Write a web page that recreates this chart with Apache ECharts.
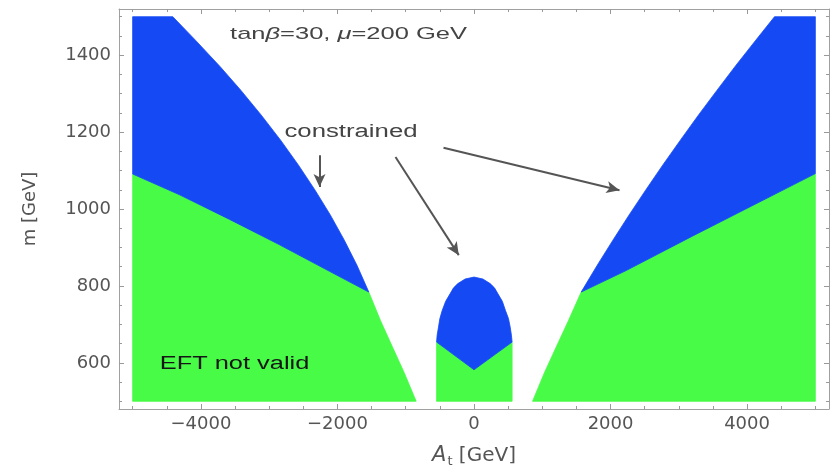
<!DOCTYPE html>
<html><head><meta charset="utf-8">
<script src="https://cdn.jsdelivr.net/npm/echarts@6/dist/echarts.min.js"></script>
<style>html,body{margin:0;padding:0;background:#fff}#c{width:837px;height:469px}</style>
</head><body><div id="c"></div><script>
// ---- axes ----
const xRange = [-5200, 5200];
const yRange = [480, 1520];
const xMajorTicks = [-4000, -2000, 0, 2000, 4000];
const xMinorTicks = [-5000, -4500, -3500, -3000, -2500, -1500, -1000, -500, 500, 1000, 1500, 2500, 3000, 3500, 4500, 5000];
const yMajorTicks = [600, 800, 1000, 1200, 1400];
const yMinorTicks = [500, 550, 650, 700, 750, 850, 900, 950, 1050, 1100, 1150, 1250, 1300, 1350, 1450, 1500];

// ---- region boundaries [A_t, m] ----
const scanA = [-5000, 5000];
const scanM = [500, 1500];
const leftOuterUpper = [[-4412, 1500], [-4081, 1439], [-3718, 1370], [-3417, 1309], [-3116, 1244], [-2833, 1179], [-2571, 1114], [-2328, 1049], [-2103, 984], [-1900, 919], [-1715, 854], [-1541, 784]];
const leftOuterLower = [[-1541, 784], [-1370, 710], [-1194, 641], [-1024, 575], [-847, 500]];
const leftSplit = [[-5000, 1091], [-4314, 1037], [-3581, 973], [-2849, 907], [-2117, 838], [-1541, 784]];
const rightOuterUpper = [[4402, 1500], [4128, 1439], [3839, 1374], [3561, 1309], [3287, 1244], [3023, 1179], [2764, 1114], [2514, 1049], [2270, 984], [2035, 919], [1806, 854], [1570, 784]];
const rightOuterLower = [[1570, 784], [1384, 710], [1204, 641], [1033, 575], [858, 500]];
const rightSplit = [[5000, 1092], [3205, 930], [2229, 840], [1570, 784]];
const centerDome = [[-548, 654], [-540, 672], [-520, 693], [-500, 715], [-466, 736], [-415, 760], [-349, 780], [-300, 795], [-237, 806], [-130, 818], [0, 823], [130, 818], [237, 806], [300, 795], [349, 780], [415, 760], [461, 736], [505, 715], [530, 693], [548, 672], [558, 654]];
const centerSplit = [[-548, 654], [0, 582], [558, 654]];

// ---- annotations ----
const arrows = [
  [[-2263, 1140], [-2263, 1057]],
  [[-1150, 1135], [-223, 880]],
  [[-447, 1159], [2131, 1049]]
];
const notes = [
  { text: '{n|tan}{i|β}{n|=30, }{i|μ}{n|=200 GeV}', at: [-1838, 1455], size: 17, sx: 1.5, color: '#444' },
  { text: '{n|constrained}', at: [-1802, 1200], size: 18, sx: 1.43, color: '#444' },
  { text: '{n|EFT not valid}', at: [-3508, 598], size: 18, sx: 1.41, color: '#151515' }
];

const BLUE = '#1449f4', GREEN = '#47fb47';

// polygons built from the boundaries
const leftGreen = [[scanA[0], scanM[0]]].concat(leftSplit, leftOuterLower.slice(1));
const leftBlue = [[scanA[0], scanM[1]]].concat(leftOuterUpper, leftSplit.slice(0, -1).reverse());
const rightGreen = [[scanA[1], scanM[0]]].concat(rightSplit, rightOuterLower.slice(1));
const rightBlue = [[scanA[1], scanM[1]]].concat(rightOuterUpper, rightSplit.slice(0, -1).reverse());
const centerGreen = [[centerSplit[0][0], scanM[0]]].concat(centerSplit, [[centerSplit[2][0], scanM[0]]]);
const centerBlue = centerDome.concat([centerSplit[1]]);

function poly(name, pts, color) {
  return {
    type: 'custom', name: name, xAxisIndex: 0, yAxisIndex: 0, silent: true, animation: false,
    data: pts, encode: { x: 0, y: 1 },
    renderItem: function (params, api) {
      if (params.dataIndex !== 0) return null;
      return { type: 'polygon', shape: { points: pts.map(function (p) { return api.coord(p); }) },
        style: { fill: color, stroke: color, lineWidth: 0.8 } };
    }
  };
}

const frameColor = '#a0a0a0';
const labelFont = { color: '#555', fontFamily: 'DejaVu Sans', fontSize: 18 };
function axis(kind, pos, ticks, len, withLabels, withLine) {
  return {
    type: 'value', position: pos, min: kind === 'x' ? xRange[0] : yRange[0], max: kind === 'x' ? xRange[1] : yRange[1],
    axisLine: { show: withLine, onZero: false, lineStyle: { color: frameColor, width: 1 } },
    axisTick: { show: true, inside: true, length: len, customValues: ticks, lineStyle: { color: '#999', width: 1 } },
    axisLabel: withLabels ? Object.assign({ show: true, customValues: ticks, margin: kind === 'x' ? 6 : 8,
      formatter: function (v) { return String(v).replace('-', '\u2212'); } }, labelFont) : { show: false },
    splitLine: { show: false }
  };
}

const xAxes = [
  axis('x', 'bottom', xMajorTicks, 5, true, true),
  axis('x', 'bottom', xMinorTicks, 3, false, false),
  axis('x', 'top', xMajorTicks, 5, false, true),
  axis('x', 'top', xMinorTicks, 3, false, false)
];
Object.assign(xAxes[0], {
  name: '{a|A}{b|t}{c| [GeV]}', nameLocation: 'middle', nameGap: 35,
  nameTextStyle: { color: '#555', fontFamily: 'DejaVu Sans', fontSize: 20,
    rich: { a: { fontStyle: 'italic', fontSize: 21, color: '#555', fontFamily: 'DejaVu Sans', lineHeight: 24, verticalAlign: 'middle' },
            b: { fontSize: 13, color: '#555', fontFamily: 'DejaVu Sans', lineHeight: 13, verticalAlign: 'bottom', padding: [0, 0, 0, 1] },
            c: { fontSize: 20, color: '#555', fontFamily: 'DejaVu Sans', lineHeight: 24, verticalAlign: 'middle' } } }
});
const yAxes = [
  axis('y', 'left', yMajorTicks, 5, true, true),
  axis('y', 'left', yMinorTicks, 3, false, false),
  axis('y', 'right', yMajorTicks, 5, false, true),
  axis('y', 'right', yMinorTicks, 3, false, false)
];
Object.assign(yAxes[0], {
  name: 'm [GeV]', nameLocation: 'middle', nameGap: 80,
  nameTextStyle: { color: '#555', fontFamily: 'DejaVu Sans', fontSize: 18 }
});

const chart = echarts.init(document.getElementById('c'), null, { renderer: 'canvas' });
chart.setOption({
  animation: false,
  backgroundColor: '#fff',
  grid: { left: 119, right: 8, top: 9, bottom: 60, containLabel: false, outerBoundsMode: 'none' },
  xAxis: xAxes,
  yAxis: yAxes,
  series: [
    poly('leftGreen', leftGreen, GREEN),
    poly('leftBlue', leftBlue, BLUE),
    poly('centerGreen', centerGreen, GREEN),
    poly('centerBlue', centerBlue, BLUE),
    poly('rightGreen', rightGreen, GREEN),
    poly('rightBlue', rightBlue, BLUE),
    {
      type: 'line', data: [], xAxisIndex: 0, yAxisIndex: 0, silent: true,
      markLine: {
        silent: true, animation: false, symbol: ['none', 'arrow'], symbolSize: [9, 13],
        label: { show: false },
        lineStyle: { color: '#555', width: 2, type: 'solid' },
        emphasis: { disabled: true },
        data: arrows.map(function (a) { return [{ coord: a[0] }, { coord: a[1] }]; })
      }
    }
  ]
});

const graphics = notes.map(function (n) {
  const p = chart.convertToPixel({ gridIndex: 0 }, n.at);
  return {
    type: 'text', x: p[0], y: p[1], scaleX: n.sx, silent: true, z: 100, zlevel: 0,
    style: {
      text: n.text, align: 'center', verticalAlign: 'middle', fill: n.color,
      font: n.size + 'px "Liberation Sans"',
      rich: {
        n: { font: n.size + 'px "Liberation Sans"', fill: n.color },
        i: { font: 'italic ' + n.size + 'px "Liberation Sans"', fill: n.color }
      }
    }
  };
});
chart.setOption({ graphic: graphics });
</script></body></html>
